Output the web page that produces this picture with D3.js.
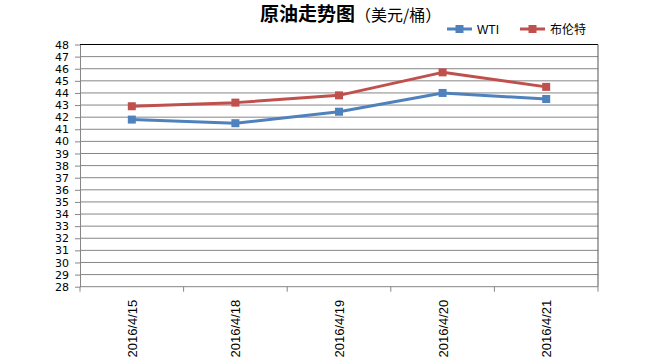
<!DOCTYPE html>
<html><head><meta charset="utf-8">
<script src="https://cdn.jsdelivr.net/npm/d3@7"></script>
<style>body{margin:0;background:#fff}</style>
</head><body>
<svg id="c" width="650" height="361"></svg>
<script>
const categories = ["2016/4/15","2016/4/18","2016/4/19","2016/4/20","2016/4/21"];
const wti = [41.8, 41.5, 42.45, 44.0, 43.5];
const brent = [42.9, 43.2, 43.8, 45.7, 44.5];
const seriesNames = ["WTI","布伦特"];
const yTicks = d3.range(28, 49, 1);

const svg = d3.select("#c");
const L = 80, R = 598, T = 44.5, B = 286.7;
const x = d3.scaleBand().domain(categories).range([L, R]);
const y = d3.scaleLinear().domain([28, 48]).range([B, T]);
const colors = ["#4F81BD", "#C0504D"];

// gridlines
svg.append("g").selectAll("line").data(yTicks.filter(d => d > 28 && d < 48)).join("line")
  .attr("x1", L).attr("x2", R).attr("y1", d => y(d)).attr("y2", d => y(d))
  .attr("stroke", "#868686").attr("stroke-width", 1);
// top border
svg.append("line").attr("x1", L).attr("x2", R).attr("y1", y(48)).attr("y2", y(48)).attr("stroke", "#000");
// right border
svg.append("line").attr("x1", R).attr("x2", R).attr("y1", y(48)).attr("y2", y(28)).attr("stroke", "#555");

// y axis
const ya = svg.append("g").attr("transform", `translate(${L},0)`)
  .call(d3.axisLeft(y).tickValues(yTicks).tickFormat(d3.format("d")).tickSize(5).tickSizeOuter(0));
ya.select(".domain").attr("stroke", "#868686");
ya.selectAll(".tick line").attr("stroke", "#868686");
ya.selectAll("text").attr("font-family", "DejaVu Sans, sans-serif").attr("font-size", 11).attr("fill", "#000").attr("x", -11);

// x axis
const xa = svg.append("g").attr("transform", `translate(0,${B})`);
xa.append("line").attr("x1", L).attr("x2", R).attr("stroke", "#868686");
const bounds = d3.range(0, categories.length + 1).map(i => L + i * x.bandwidth());
xa.selectAll("line.t").data(bounds).join("line").attr("class", "t")
  .attr("x1", d => d).attr("x2", d => d).attr("y1", 0).attr("y2", 5).attr("stroke", "#868686");
xa.selectAll("text").data(categories).join("text")
  .attr("transform", d => `translate(${x(d) + x.bandwidth() / 2 + 5},13) rotate(-90)`)
  .attr("text-anchor", "end")
  .attr("font-family", "Liberation Sans, Arial, sans-serif").attr("font-size", 13).attr("fill", "#000")
  .text(d => d);

// lines
const line = d3.line().x((d, i) => x(categories[i]) + x.bandwidth() / 2).y(d => y(d));
[wti, brent].forEach((s, k) => {
  svg.append("path").datum(s).attr("d", line).attr("fill", "none")
    .attr("stroke", colors[k]).attr("stroke-width", 3).attr("stroke-linejoin", "round");
  svg.append("g").selectAll("rect").data(s).join("rect")
    .attr("x", (d, i) => x(categories[i]) + x.bandwidth() / 2 - 4)
    .attr("y", d => y(d) - 4).attr("width", 8).attr("height", 8).attr("fill", colors[k]);
});

// title
const title = svg.append("text").attr("x", 260).attr("y", 21)
  .attr("font-family", "Noto Sans CJK SC, sans-serif").attr("fill", "#000");
title.append("tspan").attr("font-size", 19).attr("font-weight", "bold").text("原油走势图");
title.append("tspan").attr("font-size", 16).text("（美元/桶）");

// legend
const lg = [{x: 447}, {x: 520}];
lg.forEach((p, k) => {
  const g = svg.append("g");
  g.append("line").attr("x1", p.x).attr("x2", p.x + 25).attr("y1", 29).attr("y2", 29)
    .attr("stroke", colors[k]).attr("stroke-width", 3);
  g.append("rect").attr("x", p.x + 8.5).attr("y", 25).attr("width", 8).attr("height", 8).attr("fill", colors[k]);
  g.append("text").attr("x", p.x + 30).attr("y", 33.5)
    .attr("font-family", k === 0 ? "Liberation Sans, Arial, sans-serif" : "Noto Sans CJK SC, sans-serif")
    .attr("font-size", 12).attr("fill", "#000").text(seriesNames[k]);
});
</script>
</body></html>
